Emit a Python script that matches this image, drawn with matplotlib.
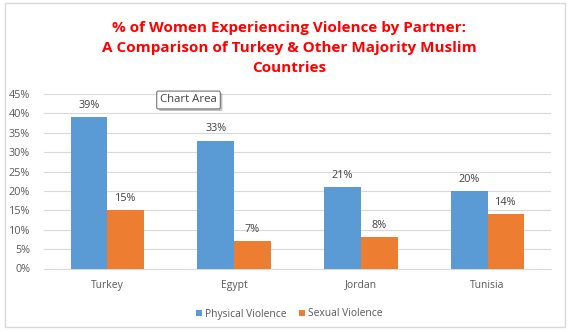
import matplotlib
matplotlib.use("Agg")
import matplotlib.pyplot as plt
from matplotlib.patches import Rectangle
import matplotlib.patheffects as pe
import numpy as np

categories = ["Turkey", "Egypt", "Jordan", "Tunisia"]
physical = [39, 33, 21, 20]
sexual = [15, 7, 8, 14]
series_names = ["Physical Violence", "Sexual Violence"]
yticks = [0, 5, 10, 15, 20, 25, 30, 35, 40, 45]
title = "% of Women Experiencing Violence by Partner:\nA Comparison of Turkey & Other Majority Muslim\nCountries"

BLUE = "#5B9BD5"
ORANGE = "#ED7D31"
plt.rcParams['font.family'] = ['Open Sans', 'DejaVu Sans']

W, H = 570, 332
fig = plt.figure(figsize=(W/100, H/100), dpi=100)
fig.patch.set_facecolor("white")

# chart area border
fig.patches.append(Rectangle((5/W, 1 - 327/H), 560/W, 324/H, transform=fig.transFigure,
                             fill=False, edgecolor="#D9D9D9", linewidth=1.0))

ax = fig.add_axes([44/W, 1 - 268.5/H, (551-44)/W, (268.5-94)/H])
x = np.arange(len(categories))
bw = 0.29
b1 = ax.bar(x - bw/2, physical, bw, color=BLUE, label=series_names[0], zorder=3)
b2 = ax.bar(x + bw/2, sexual, bw, color=ORANGE, label=series_names[1], zorder=3)
for bars, vals in ((b1, physical), (b2, sexual)):
    for r, v in zip(bars, vals):
        ax.annotate(f"{v}%", (r.get_x() + r.get_width()/2, v), xytext=(0, 4.5),
                    textcoords="offset points", ha="center", va="bottom",
                    fontsize=7.8, color="#404040")

ax.set_xlim(-0.5, len(categories) - 0.5)
ax.set_ylim(0, 45)
ax.set_yticks(yticks)
ax.set_yticklabels([f"{t}%" for t in yticks], fontsize=7.8, color="#595959")
ax.set_xticks(x)
ax.set_xticklabels(categories, fontsize=7.5, color="#595959")
ax.tick_params(axis="x", length=0, pad=8)
ax.tick_params(axis="y", length=0, pad=10)
ax.grid(axis="y", color="#D9D9D9", linewidth=0.8, zorder=0)
for s in ("top", "right", "left"):
    ax.spines[s].set_visible(False)
ax.spines["bottom"].set_color("#D9D9D9")

fig.text(289/W, 1 - 48/H, title, ha="center", va="center", fontsize=11,
         fontweight="bold", color="#FF0000", linespacing=1.55)

leg = fig.legend(handles=[b1, b2], labels=series_names, loc="center",
                 bbox_to_anchor=(289/W, 1 - 314/H), ncol=2, frameon=False,
                 fontsize=7.4, handlelength=0.6, handleheight=0.6,
                 handletextpad=0.3, columnspacing=1.2, labelcolor="#595959")

# Chart Area tooltip
t = fig.text(188.5/W, 1 - 100/H, "Chart Area", ha="center", va="center", fontsize=8.2,
             color="#404040",
             bbox=dict(boxstyle="round,pad=0.3,rounding_size=0.15", fc="white",
                       ec="#767676", lw=0.8))
t.get_bbox_patch().set_path_effects([pe.SimplePatchShadow(offset=(1.5, -1.5), alpha=0.35),
                                     pe.Normal()])

fig.savefig("out.png", dpi=100)
